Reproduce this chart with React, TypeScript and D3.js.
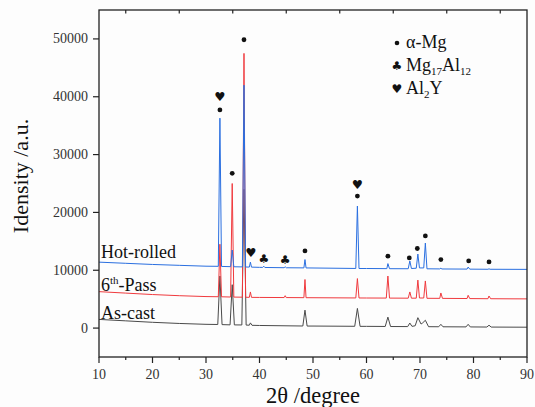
import React from "react";
import * as d3 from "d3";

// ---- data (2θ in degrees, intensity in a.u.) ----
const asCast: [number, number][] = [
  [10, 1500], [15, 1250], [20, 1000], [25, 800], [30, 650], [32.2, 620],
  [32.6, 9000], [33.0, 600], [34.5, 560], [34.9, 7500], [35.3, 550],
  [36.7, 540], [37.1, 24000], [37.5, 520], [38.1, 500], [38.3, 900], [38.6, 480],
  [40, 450], [48.1, 360], [48.5, 3100], [48.9, 350], [50, 350], [57.8, 310],
  [58.3, 3400], [58.8, 300], [60, 300], [63.5, 280], [64.0, 1900], [64.5, 270],
  [67.7, 260], [68.1, 870], [68.5, 300], [69.1, 400], [69.6, 1800], [70.2, 700],
  [70.5, 900], [71.0, 1350], [71.6, 240], [73.5, 230], [73.9, 650], [74.3, 225],
  [78.6, 205], [79.0, 650], [79.4, 200], [82.5, 180], [82.9, 500], [83.3, 175],
  [90, 150],
];

const sixthPass: [number, number][] = [
  [10, 6300], [15, 6050], [20, 5800], [25, 5600], [30, 5450], [32.3, 5420],
  [32.6, 14500], [32.9, 5410], [34.6, 5370], [34.9, 25000], [35.2, 5360],
  [36.8, 5340], [37.1, 47500], [37.4, 5330], [38.1, 5320], [38.3, 6250], [38.5, 5310],
  [40, 5300], [44.6, 5280], [44.8, 5600], [45, 5275], [48.3, 5260], [48.5, 8400],
  [48.7, 5255], [50, 5250], [58.0, 5210], [58.3, 8560], [58.6, 5205], [60, 5200],
  [63.7, 5190], [64.0, 9000], [64.3, 5185], [67.8, 5170], [68.1, 6250], [68.4, 5170],
  [69.3, 5170], [69.6, 8300], [69.9, 5200], [70.7, 5200], [71.0, 8150], [71.3, 5150],
  [73.7, 5140], [73.9, 6070], [74.2, 5135], [78.8, 5110], [79.0, 5670], [79.3, 5100],
  [82.7, 5080], [82.9, 5550], [83.2, 5075], [90, 5050],
];

const hotRolled: [number, number][] = [
  [10, 11400], [15, 11200], [20, 11000], [25, 10850], [30, 10700], [32.3, 10680],
  [32.6, 36300], [32.9, 10660], [34.6, 10620], [34.9, 13500], [35.2, 10600],
  [36.8, 10580], [37.1, 42000], [37.4, 10560], [38.1, 10550], [38.3, 11400], [38.5, 10540],
  [40, 10500], [40.6, 10490], [40.8, 10700], [41, 10480], [44.6, 10440], [44.8, 10600],
  [45, 10430], [48.3, 10410], [48.5, 11850], [48.7, 10400], [50, 10390], [58.0, 10310],
  [58.3, 21100], [58.6, 10300], [60, 10300], [63.8, 10280], [64.0, 11150], [64.3, 10270],
  [67.8, 10260], [68.1, 11600], [68.4, 10300], [69.3, 10350], [69.6, 12800], [69.9, 10400],
  [70.7, 10400], [71.0, 14700], [71.3, 10250], [73.7, 10230], [73.9, 10350], [74.1, 10220],
  [78.8, 10200], [79.0, 10550], [79.3, 10190], [82.7, 10170], [82.9, 10250], [83.1, 10170],
  [90, 10150],
];

const seriesNames = ["As-cast", "6th-Pass", "Hot-rolled"];
const seriesColors = ["#4a4a4a", "#f03a3e", "#2a6fe0"];

// phase markers: [2θ, intensity]
const dotMarks: [number, number][] = [
  [32.6, 37730], [34.9, 26760], [37.1, 49860], [48.5, 13340], [58.3, 22820],
  [64.0, 12430], [68.0, 12130], [69.5, 13760], [71.0, 15940], [73.9, 11850],
  [79.1, 11610], [82.9, 11440],
];
const heartMarks: [number, number][] = [
  [32.6, 40030], [38.4, 13120], [58.3, 24900],
];
const clubMarks: [number, number][] = [
  [40.8, 12080], [44.8, 11850],
];

const xTicks = [10, 20, 30, 40, 50, 60, 70, 80, 90];
const xMinorTicks = [15, 25, 35, 45, 55, 65, 75, 85];
const yTicks = [0, 10000, 20000, 30000, 40000, 50000];

const W = 535;
const H = 407;
const M = { left: 99, top: 10, right: 8, bottom: 50 };
const FONT = "Liberation Serif, Times New Roman, serif";
const SYM = "DejaVu Sans, sans-serif";

export default function App() {
  const x = d3.scaleLinear().domain([10, 90]).range([M.left, W - M.right]);
  const y = d3.scaleLinear().domain([-5000, 55000]).range([H - M.bottom, M.top]);
  const line = d3
    .line<[number, number]>()
    .x((d) => x(d[0]))
    .y((d) => y(d[1]));
  const data = [asCast, sixthPass, hotRolled];
  const x0 = M.left;
  const x1 = W - M.right;
  const y0 = H - M.bottom;
  const y1 = M.top;

  return (
    <svg
      width={W}
      height={H}
      style={{ position: "absolute", left: 0, top: 0, background: "#fdfdfd", fontFamily: FONT }}
    >
      <rect x={0} y={0} width={W} height={H} fill="#fdfdfd" />
      {data.map((d, i) => (
        <path
          key={seriesNames[i]}
          d={line(d) || ""}
          fill="none"
          stroke={seriesColors[i]}
          strokeWidth={1}
          strokeLinejoin="round"
        />
      ))}
      <rect x={x0} y={y1} width={x1 - x0} height={y0 - y1} fill="none" stroke="#222" strokeWidth={1.3} />
      {xTicks.map((t) => (
        <g key={"xt" + t}>
          <line x1={x(t)} x2={x(t)} y1={y0} y2={y0 + 6} stroke="#222" strokeWidth={1.2} />
          <text x={x(t)} y={y0 + 22} textAnchor="middle" fontSize={14} fill="#333" style={{ fontFamily: FONT }}>
            {t}
          </text>
        </g>
      ))}
      {xMinorTicks.map((t) => (
        <g key={"xm" + t}>
          <line x1={x(t)} x2={x(t)} y1={y0} y2={y0 + 3} stroke="#222" strokeWidth={1.2} />
          <line x1={x(t)} x2={x(t)} y1={y1} y2={y1 + 3.5} stroke="#222" strokeWidth={1.2} />
        </g>
      ))}
      {yTicks.map((t) => (
        <g key={"yt" + t}>
          <line x1={x0 - 6} x2={x0} y1={y(t)} y2={y(t)} stroke="#222" strokeWidth={1.2} />
          <text x={x0 - 11} y={y(t) + 4.5} textAnchor="end" fontSize={14} fill="#333" style={{ fontFamily: FONT }}>
            {t}
          </text>
        </g>
      ))}
      <text x={(x0 + x1) / 2} y={403} textAnchor="middle" fontSize={22.5} fill="#111" style={{ fontFamily: FONT }}>
        2θ /degree
      </text>
      <text
        transform={`translate(28, ${176}) rotate(-90)`}
        textAnchor="middle"
        fontSize={22}
        fill="#111"
        style={{ fontFamily: FONT }}
      >
        Idensity /a.u.
      </text>
      <text x={101} y={258} fontSize={18} fill="#111" style={{ fontFamily: FONT }}>Hot-rolled</text>
      <text x={101} y={291} fontSize={18} fill="#111" style={{ fontFamily: FONT }}>
        6<tspan fontSize={11} dy={-7}>th</tspan>
        <tspan dy={7}>-Pass</tspan>
      </text>
      <text x={101} y={319} fontSize={18} fill="#111" style={{ fontFamily: FONT }}>As-cast</text>
      {dotMarks.map((m, i) => (
        <circle key={"d" + i} cx={x(m[0])} cy={y(m[1])} r={2.4} fill="#111" />
      ))}
      {heartMarks.map((m, i) => (
        <text key={"h" + i} x={x(m[0])} y={y(m[1]) + 4.5} textAnchor="middle" fontSize={12.5}
          style={{ fontFamily: SYM }} fill="#111">♥</text>
      ))}
      {clubMarks.map((m, i) => (
        <text key={"c" + i} x={x(m[0])} y={y(m[1]) + 4.5} textAnchor="middle" fontSize={12}
          style={{ fontFamily: SYM }} fill="#111">♣</text>
      ))}
      <circle cx={397} cy={43} r={2.3} fill="#111" />
      <text x={406} y={48} fontSize={18} fill="#111" style={{ fontFamily: FONT }}>α-Mg</text>
      <text x={397} y={69.5} textAnchor="middle" fontSize={12} style={{ fontFamily: SYM }} fill="#111">♣</text>
      <text x={406} y={71} fontSize={18} fill="#111" style={{ fontFamily: FONT }}>
        Mg<tspan fontSize={11} dy={4}>17</tspan>
        <tspan dy={-4}>Al</tspan>
        <tspan fontSize={11} dy={4}>12</tspan>
      </text>
      <text x={397} y={92.5} textAnchor="middle" fontSize={12} style={{ fontFamily: SYM }} fill="#111">♥</text>
      <text x={406} y={94} fontSize={18} fill="#111" style={{ fontFamily: FONT }}>
        Al<tspan fontSize={11} dy={4}>2</tspan>
        <tspan dy={-4}>Y</tspan>
      </text>
    </svg>
  );
}
